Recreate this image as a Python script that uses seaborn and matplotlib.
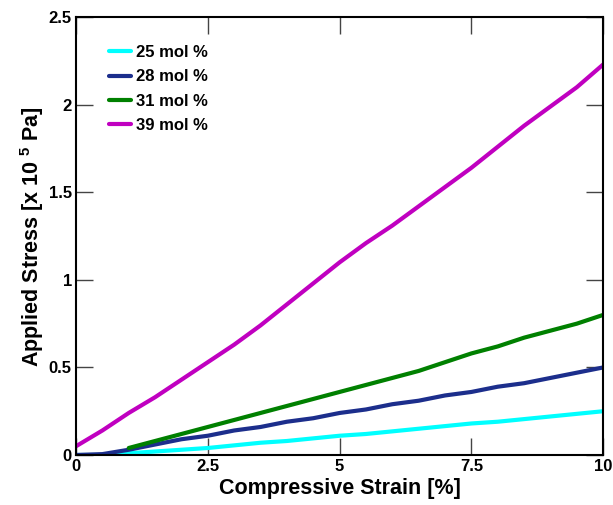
import numpy as np
import pandas as pd
import matplotlib
matplotlib.use("Agg")
import matplotlib.pyplot as plt
import seaborn as sns

# ===============================
# DATA
# ===============================
strain = [0, 0.5, 1, 1.5, 2, 2.5, 3, 3.5, 4, 4.5, 5,
          5.5, 6, 6.5, 7, 7.5, 8, 8.5, 9, 9.5, 10]

stress_25 = [0, 0.0, 0.01, 0.02, 0.03, 0.04, 0.055, 0.07, 0.08, 0.095, 0.11,
             0.12, 0.135, 0.15, 0.165, 0.18, 0.19, 0.205, 0.22, 0.235, 0.25]
stress_28 = [0, 0.005, 0.03, 0.06, 0.09, 0.11, 0.14, 0.16, 0.19, 0.21, 0.24,
             0.26, 0.29, 0.31, 0.34, 0.36, 0.39, 0.41, 0.44, 0.47, 0.50]
strain_31 = strain[2:]
stress_31 = [0.04, 0.08, 0.12, 0.16, 0.20, 0.24, 0.28, 0.32, 0.36,
             0.40, 0.44, 0.48, 0.53, 0.58, 0.62, 0.67, 0.71, 0.75, 0.80]
stress_39 = [0.05, 0.14, 0.24, 0.33, 0.43, 0.53, 0.63, 0.74, 0.86, 0.98, 1.10,
             1.21, 1.31, 1.42, 1.53, 1.64, 1.76, 1.88, 1.99, 2.10, 2.23]

labels = ["25 mol %", "28 mol %", "31 mol %", "39 mol %"]
colors = ["#00FFFF", "#1C2E8C", "#008000", "#C000C0"]

xticks = [0, 2.5, 5, 7.5, 10]
xticklabels = ["0", "2.5", "5", "7.5", "10"]
yticks = [0, 0.5, 1, 1.5, 2, 2.5]
yticklabels = ["0", "0.5", "1", "1.5", "2", "2.5"]

# ===============================
# STYLE
# ===============================
sns.set_style("ticks")
plt.rcParams['font.family'] = ['Liberation Sans', 'DejaVu Sans']
plt.rcParams['font.weight'] = 'bold'
plt.rcParams['text.color'] = 'black'
plt.rcParams['axes.labelcolor'] = 'black'
plt.rcParams['xtick.labelcolor'] = 'black'
plt.rcParams['ytick.labelcolor'] = 'black'
plt.rcParams['mathtext.fontset'] = 'custom'
plt.rcParams['mathtext.bf'] = 'Liberation Sans:bold'
plt.rcParams['mathtext.rm'] = 'Liberation Sans:bold'

fig = plt.figure(figsize=(6.13, 5.05), dpi=100)
ax = fig.add_axes([0.124, 0.099, 0.860, 0.867])

series = [
    (strain, stress_25),
    (strain, stress_28),
    (strain_31, stress_31),
    (strain, stress_39),
]
for (xs, ys), lab, col in zip(series, labels, colors):
    df = pd.DataFrame({"strain": xs, "stress": ys})
    sns.lineplot(data=df, x="strain", y="stress", color=col, linewidth=3.0,
                 label=lab, ax=ax)

ax.set_xlim(0, 10)
ax.set_ylim(0, 2.5)
ax.set_xticks(xticks)
ax.set_xticklabels(xticklabels, fontsize=12, fontweight='bold')
ax.set_yticks(yticks)
ax.set_yticklabels(yticklabels, fontsize=12, fontweight='bold')
ax.tick_params(direction='in', length=12, width=1, color='#444444',
               top=True, right=True, pad=3)

for s in ax.spines.values():
    s.set_linewidth(1.5)
    s.set_color('black')

ax.set_xlabel("Compressive Strain [%]", fontsize=15.5, fontweight='bold', labelpad=3)
ax.set_ylabel(r"Applied Stress [x 10 $^{\mathbf{5}}$ Pa]", fontsize=15.5,
              fontweight='bold', labelpad=2)

leg = ax.legend(loc='upper left', bbox_to_anchor=(0.035, 0.97), frameon=False,
                handlelength=1.3, handletextpad=0.3, labelspacing=0.55,
                prop={'size': 12, 'weight': 'bold'})

plt.savefig("out.png", dpi=100)
plt.close()
